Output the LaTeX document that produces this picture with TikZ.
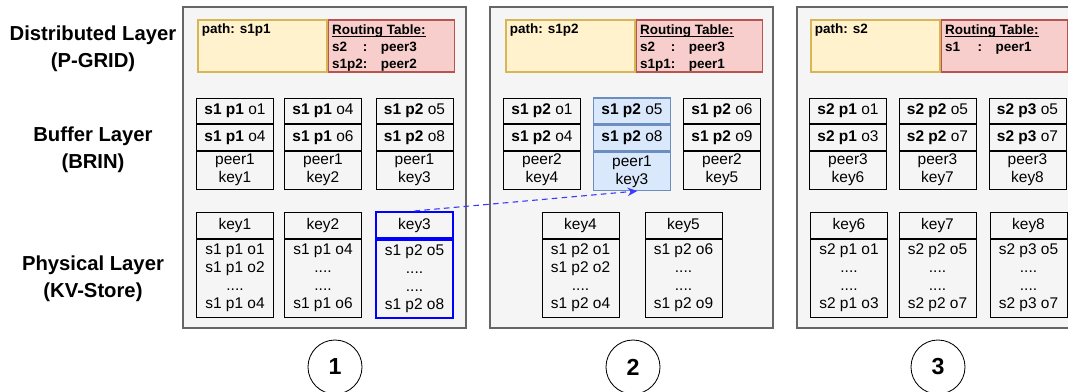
\documentclass[tikz,border=0pt]{standalone}
\usepackage{fontspec}
\setmainfont{Liberation Sans}
\usetikzlibrary{positioning,arrows.meta}
\renewcommand{\arraystretch}{1.05}
\newcommand{\tablehead}[1]{\setbox0\hbox{\bfseries #1}\rlap{\rule[-1.4pt]{\wd0}{0.6pt}}\box0}

\definecolor{peerfill}{HTML}{F5F5F5}
\definecolor{peerline}{HTML}{666666}
\definecolor{pathfill}{HTML}{FFF2CC}
\definecolor{pathline}{HTML}{D6B656}
\definecolor{routefill}{HTML}{F8CECC}
\definecolor{routeline}{HTML}{B85450}
\definecolor{hotfill}{HTML}{DAE8FC}
\definecolor{hotline}{HTML}{6C8EBF}
\definecolor{linkblue}{RGB}{60,60,255}

\tikzset{
  peer/.style={draw=peerline, fill=peerfill, line width=1.4pt, minimum width=7.075cm, minimum height=8.025cm, inner sep=0pt},
  pathbox/.style={draw=pathline, fill=pathfill, line width=0.8pt, minimum width=3.225cm, minimum height=1.3cm, inner sep=0pt},
  routebox/.style={draw=routeline, fill=routefill, line width=0.8pt, minimum width=3.15cm, minimum height=1.3cm, inner sep=0pt},
  boxtext/.style={anchor=north west, inner xsep=3pt, inner ysep=2.5pt, font=\fontsize{9.6}{11.3}\selectfont\bfseries},
  cell/.style={draw=black, fill=peerfill, line width=0.7pt, minimum width=1.925cm, minimum height=0.64cm, inner sep=0pt, align=center, font=\fontsize{11}{12.8}\selectfont},
  keycell/.style={cell, minimum height=0.95cm},
  headcell/.style={cell, minimum height=0.65cm},
  bodycell/.style={cell, minimum height=1.95cm},
  hot/.style={draw=hotline, fill=hotfill, line width=1.1pt},
  layer/.style={align=center, font=\fontsize{14.4}{19}\selectfont\bfseries},
  stepno/.style={circle, draw=black, line width=0.6pt, minimum size=1.35cm, inner sep=0pt, font=\fontsize{16.5}{18}\selectfont\bfseries}
}

\begin{document}
\begin{tikzpicture}[x=0.025cm, y=-0.025cm]
  \useasboundingbox (0,0) rectangle (1068,391);
  \clip (0,0) rectangle (1068,391);

  \node[layer] (distributed) at (93,48.5) {Distributed Layer\\(P-GRID)};
  \node[layer] (buffer) at (93,150) {Buffer Layer\\(BRIN)};
  \node[layer] (physical) at (93,278.5) {Physical Layer\\(KV-Store)};

  \node[peer] (peer1) at (324.5,167.5) {};
  \node[peer] (peer2) at (631.5,167.5) {};
  \node[peer] (peer3) at (938.5,167.5) {};

  \node[pathbox] (path1) at (262.5,46) {};
  \node[routebox, right=0pt of path1] (route1) {};
  \node[pathbox] (path2) at (570.5,46) {};
  \node[routebox, right=0pt of path2] (route2) {};
  \node[pathbox] (path3) at (875.5,46) {};
  \node[routebox, right=0pt of path3] (route3) {};

  \node[boxtext] (pathtext1) at (path1.north west) {path: s1p1};
  \node[boxtext] (routetext1) at (route1.north west) {\begin{tabular}{@{}l@{}l@{\hspace{1em}}l@{}}\multicolumn{3}{@{}l@{}}{\tablehead{Routing Table:}}\\ s2 & : & peer3\\ s1p2 & : & peer2\end{tabular}};
  \node[boxtext] (pathtext2) at (path2.north west) {path: s1p2};
  \node[boxtext] (routetext2) at (route2.north west) {\begin{tabular}{@{}l@{}l@{\hspace{1em}}l@{}}\multicolumn{3}{@{}l@{}}{\tablehead{Routing Table:}}\\ s2 & : & peer3\\ s1p1 & : & peer1\end{tabular}};
  \node[boxtext] (pathtext3) at (path3.north west) {path: s2};
  \node[boxtext] (routetext3) at (route3.north west) {\begin{tabular}{@{}l@{\hspace{1.3em}}l@{\hspace{1em}}l@{}}\multicolumn{3}{@{}l@{}}{\tablehead{Routing Table:}}\\ s1 & : & peer1\end{tabular}};

  \begin{scope}
    \node[cell] (b1a) at (235,110.8) {\textbf{s1 p1} o1};
    \node[cell, below=0pt of b1a] (b1b) {\textbf{s1 p1} o4};
    \node[keycell, below=0pt of b1b] (b1c) {peer1\\key1};
    \node[cell] (b2a) at (323,110.8) {\textbf{s1 p1} o4};
    \node[cell, below=0pt of b2a] (b2b) {\textbf{s1 p1} o6};
    \node[keycell, below=0pt of b2b] (b2c) {peer1\\key2};
    \node[cell] (b3a) at (414.5,110.8) {\textbf{s1 p2} o5};
    \node[cell, below=0pt of b3a] (b3b) {\textbf{s1 p2} o8};
    \node[keycell, below=0pt of b3b] (b3c) {peer1\\key3};

    \node[cell] (b4a) at (542,110.8) {\textbf{s1 p2} o1};
    \node[cell, below=0pt of b4a] (b4b) {\textbf{s1 p2} o4};
    \node[keycell, below=0pt of b4b] (b4c) {peer2\\key4};
    \node[cell, hot] (b5a) at (632,110.8) {\textbf{s1 p2} o5};
    \node[cell, hot, below=0pt of b5a] (b5b) {\textbf{s1 p2} o8};
    \node[keycell, hot, below=0pt of b5b] (b5c) {peer1\\key3};
    \node[cell] (b6a) at (722,110.8) {\textbf{s1 p2} o6};
    \node[cell, below=0pt of b6a] (b6b) {\textbf{s1 p2} o9};
    \node[keycell, below=0pt of b6b] (b6c) {peer2\\key5};

    \node[cell] (b7a) at (848,110.8) {\textbf{s2 p1} o1};
    \node[cell, below=0pt of b7a] (b7b) {\textbf{s2 p1} o3};
    \node[keycell, below=0pt of b7b] (b7c) {peer3\\key6};
    \node[cell] (b8a) at (937.5,110.8) {\textbf{s2 p2} o5};
    \node[cell, below=0pt of b8a] (b8b) {\textbf{s2 p2} o7};
    \node[keycell, below=0pt of b8b] (b8c) {peer3\\key7};
    \node[cell] (b9a) at (1027.5,110.8) {\textbf{s2 p3} o5};
    \node[cell, below=0pt of b9a] (b9b) {\textbf{s2 p3} o7};
    \node[keycell, below=0pt of b9b] (b9c) {peer3\\key8};
  \end{scope}

  \begin{scope}
    \node[headcell] (k1) at (235,225) {key1};
    \node[bodycell, below=0pt of k1] (v1) {s1 p1 o1\\s1 p1 o2\\....\\s1 p1 o4};
    \node[headcell] (k2) at (323,225) {key2};
    \node[bodycell, below=0pt of k2] (v2) {s1 p1 o4\\....\\....\\s1 p1 o6};
    \node[headcell, draw=blue, line width=1.5pt] (k3) at (414.5,225) {key3};
    \node[bodycell, draw=blue, line width=1.5pt, below=0pt of k3] (v3) {s1 p2 o5\\....\\....\\s1 p2 o8};

    \node[headcell] (k4) at (580.5,225) {key4};
    \node[bodycell, below=0pt of k4] (v4) {s1 p2 o1\\s1 p2 o2\\....\\s1 p2 o4};
    \node[headcell] (k5) at (683.5,225) {key5};
    \node[bodycell, below=0pt of k5] (v5) {s1 p2 o6\\....\\....\\s1 p2 o9};

    \node[headcell] (k6) at (849,225) {key6};
    \node[bodycell, below=0pt of k6] (v6) {s2 p1 o1\\....\\....\\s2 p1 o3};
    \node[headcell] (k7) at (937.5,225) {key7};
    \node[bodycell, below=0pt of k7] (v7) {s2 p2 o5\\....\\....\\s2 p2 o7};
    \node[headcell] (k8) at (1028.5,225) {key8};
    \node[bodycell, below=0pt of k8] (v8) {s2 p3 o5\\....\\....\\s2 p3 o7};
  \end{scope}

  \path (k3.north) edge[draw=linkblue, line width=0.8pt, dash pattern=on 4pt off 3pt, -{Stealth[length=7pt,width=6pt]}, shorten >=-1pt] ([xshift=0.1cm]b5c.south);

  \node[stepno] (step1) at (335,367) {1};
  \node[stepno] (step2) at (633,367) {2};
  \node[stepno] (step3) at (938,367) {3};
\end{tikzpicture}
\end{document}
